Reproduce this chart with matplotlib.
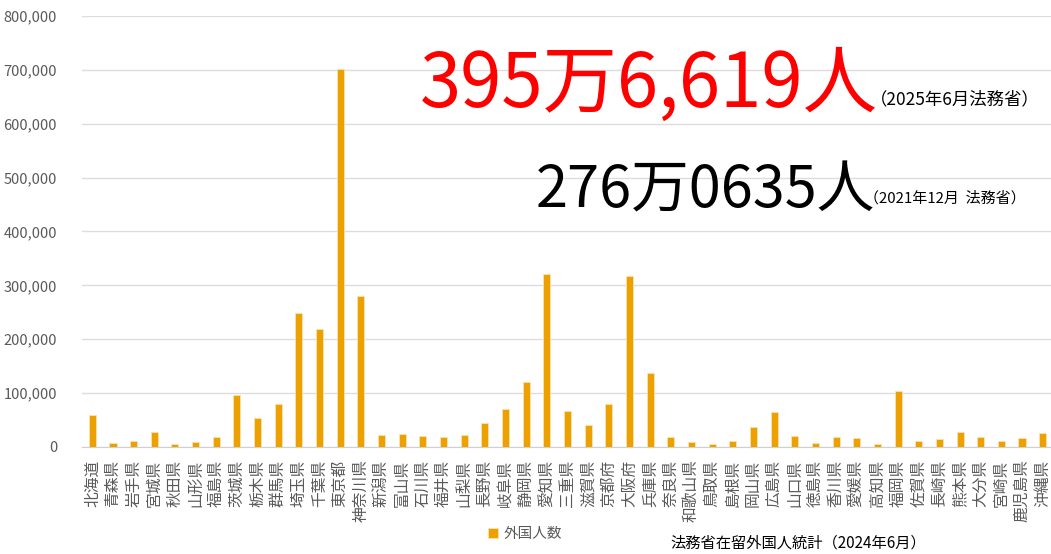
import matplotlib.pyplot as plt
from matplotlib.ticker import FuncFormatter

plt.rcParams['font.family'] = ['Noto Sans CJK JP', 'DejaVu Sans']

prefs = ["北海道", "青森県", "岩手県", "宮城県", "秋田県", "山形県", "福島県",
         "茨城県", "栃木県", "群馬県", "埼玉県", "千葉県", "東京都", "神奈川県",
         "新潟県", "富山県", "石川県", "福井県", "山梨県", "長野県", "岐阜県",
         "静岡県", "愛知県", "三重県", "滋賀県", "京都府", "大阪府", "兵庫県",
         "奈良県", "和歌山県", "鳥取県", "島根県", "岡山県", "広島県", "山口県",
         "徳島県", "香川県", "愛媛県", "高知県", "福岡県", "佐賀県", "長崎県",
         "熊本県", "大分県", "宮崎県", "鹿児島県", "沖縄県"]
foreigners = [60100, 8100, 10500, 28500, 5600, 9900, 18600,
              96700, 53900, 79400, 249000, 219000, 701000, 279600,
              22300, 23600, 20500, 18600, 22300, 44600, 71300,
              120000, 321000, 66300, 41500, 79400, 317000, 137000,
              18600, 9300, 5600, 10500, 37200, 64500, 21000,
              8000, 18600, 17400, 6200, 104800, 11200, 14900,
              27900, 19200, 10500, 17400, 26700]

fig = plt.figure(figsize=(10.51, 5.54), dpi=100)
ax = fig.add_axes([82 / 1051, 107 / 554, (1053 - 82) / 1051, 431 / 554])

x = range(len(prefs))
ax.bar(x, foreigners, width=0.34, color='#EDA100', edgecolor='#F9E3B0',
       linewidth=0.6, label='外国人数', zorder=3)

ax.set_xlim(-0.5, len(prefs) - 0.5)
ax.set_ylim(0, 800000)
ax.set_yticks(range(0, 800001, 100000))
ax.yaxis.set_major_formatter(FuncFormatter(lambda v, p: f"{int(v):,}"))
ax.grid(axis='y', color='#dddddd', linewidth=1, zorder=0)
ax.set_xticks(list(x))
ax.set_xticklabels(prefs, fontsize=11.3, color='#595959', rotation=90,
                   va='top', ha='center')
ax.tick_params(axis='x', length=0, pad=9)
ax.tick_params(axis='y', length=0, pad=18, labelsize=10.5, labelcolor='#595959')
for s in ['top', 'right', 'left']:
    ax.spines[s].set_visible(False)
ax.spines['bottom'].set_color('#d0d0d0')

ax.legend(loc='center', bbox_to_anchor=(525 / 1051, 20 / 554),
          bbox_transform=fig.transFigure, frameon=False, fontsize=10.5,
          handlelength=0.7, handleheight=0.7, handletextpad=0.4,
          labelcolor='#595959')

fig.text(670 / 1051, 1 - 543 / 554, "法務省在留外国人統計（2024年6月）",
         fontsize=11, va='center', ha='left', color='black')

fig.text(420 / 1051, 1 - 107 / 554, "395万6,619人", fontsize=53.5,
         color='#FF0000', ha='left', va='baseline')
fig.text(870 / 1051, 1 - 104 / 554, "（2025年6月法務省）", fontsize=12.5,
         color='black', ha='left', va='baseline')
fig.text(536 / 1051, 1 - 207 / 554, "276万0635人", fontsize=41.5,
         color='black', ha='left', va='baseline')
fig.text(864 / 1051, 1 - 203 / 554, "（2021年12月  法務省）", fontsize=10.8,
         color='black', ha='left', va='baseline')

fig.savefig('out.png', dpi=100)
